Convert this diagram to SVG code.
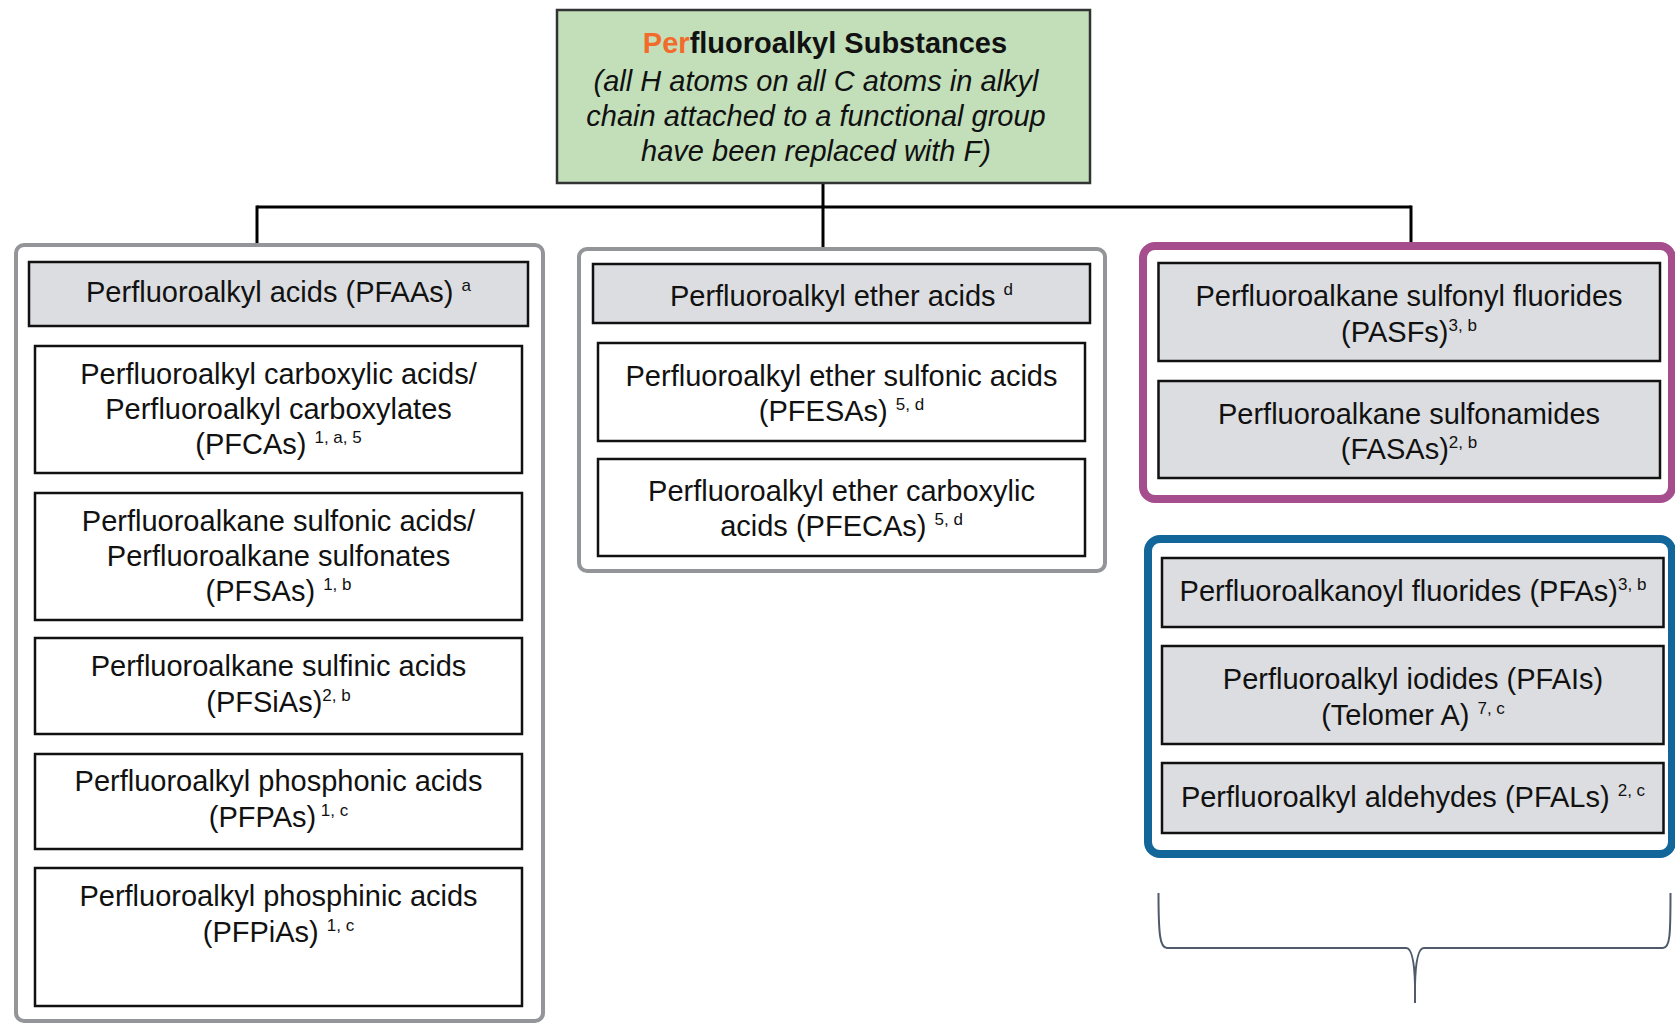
<svg xmlns="http://www.w3.org/2000/svg" width="1675" height="1023" viewBox="0 0 1675 1023">
  <style>
    .t { font-family: "Liberation Sans", Arial, sans-serif; font-size: 29px; fill: #111; text-anchor: middle; }
    .it { font-style: italic; }
    .b { font-weight: bold; }
    .sup { font-size: 17px; }
    .box { stroke: #111; stroke-width: 2.5; }
    .white { fill: #ffffff; }
    .gray { fill: #dcdde0; }
    .frame { fill: #ffffff; stroke: #939598; stroke-width: 4; }
    .link { fill: none; stroke: #000; stroke-width: 3; }
  </style>

  <rect width="1675" height="1023" fill="#ffffff"/>

  <!-- tree connectors -->
  <g id="connectors" class="link">
    <line x1="823" y1="183" x2="823" y2="207"/>
    <line x1="257" y1="207" x2="1411" y2="207"/>
    <line x1="257" y1="205.5" x2="257" y2="244"/>
    <line x1="823" y1="205.5" x2="823" y2="248"/>
    <line x1="1411" y1="205.5" x2="1411" y2="243"/>
  </g>

  <!-- root -->
  <g id="root">
    <rect x="557" y="10" width="533" height="173" fill="#c2dfba" stroke="#333" stroke-width="2.5"/>
    <text class="t b" x="825" y="53"><tspan fill="#f26b2a">Per</tspan>fluoroalkyl Substances</text>
    <text class="t it" x="816" y="91">(all H atoms on all C atoms in alkyl</text>
    <text class="t it" x="816" y="126">chain attached to a functional group</text>
    <text class="t it" x="816" y="161">have been replaced with F)</text>
  </g>

  <!-- PFAAs column -->
  <g id="pfaa-group">
    <rect class="frame" x="16" y="245" width="527" height="776" rx="8"/>
  </g>
  <g id="pfaas">
    <rect class="box gray" x="29" y="262" width="499" height="64"/>
    <text class="t" x="278.5" y="302">Perfluoroalkyl acids (PFAAs) <tspan class="sup" dy="-11">a</tspan></text>
  </g>
  <g id="pfcas">
    <rect class="box white" x="35" y="346" width="487" height="127"/>
    <text class="t" x="278.5" y="384">Perfluoroalkyl carboxylic acids/</text>
    <text class="t" x="278.5" y="419">Perfluoroalkyl carboxylates</text>
    <text class="t" x="278.5" y="454">(PFCAs) <tspan class="sup" dy="-11">1, a, 5</tspan></text>
  </g>
  <g id="pfsas">
    <rect class="box white" x="35" y="493" width="487" height="127"/>
    <text class="t" x="278.5" y="531">Perfluoroalkane sulfonic acids/</text>
    <text class="t" x="278.5" y="566">Perfluoroalkane sulfonates</text>
    <text class="t" x="278.5" y="601">(PFSAs) <tspan class="sup" dy="-11">1, b</tspan></text>
  </g>
  <g id="pfsias">
    <rect class="box white" x="35" y="638" width="487" height="96"/>
    <text class="t" x="278.5" y="676">Perfluoroalkane sulfinic acids</text>
    <text class="t" x="278.5" y="712">(PFSiAs)<tspan class="sup" dy="-11">2, b</tspan></text>
  </g>
  <g id="pfpas">
    <rect class="box white" x="35" y="754" width="487" height="95"/>
    <text class="t" x="278.5" y="791">Perfluoroalkyl phosphonic acids</text>
    <text class="t" x="278.5" y="827">(PFPAs)<tspan class="sup" dy="-11"> 1, c</tspan></text>
  </g>
  <g id="pfpias">
    <rect class="box white" x="35" y="868" width="487" height="138"/>
    <text class="t" x="278.5" y="906">Perfluoroalkyl phosphinic acids</text>
    <text class="t" x="278.5" y="942">(PFPiAs) <tspan class="sup" dy="-11">1, c</tspan></text>
  </g>

  <!-- ether acids column -->
  <g id="ether-group">
    <rect class="frame" x="579" y="249" width="526" height="322" rx="8"/>
  </g>
  <g id="ether-acids">
    <rect class="box gray" x="593" y="264" width="497" height="59"/>
    <text class="t" x="841.5" y="306">Perfluoroalkyl ether acids <tspan class="sup" dy="-11">d</tspan></text>
  </g>
  <g id="pfesas">
    <rect class="box white" x="598" y="343" width="487" height="98"/>
    <text class="t" x="841.5" y="386">Perfluoroalkyl ether sulfonic acids</text>
    <text class="t" x="841.5" y="421">(PFESAs) <tspan class="sup" dy="-11">5, d</tspan></text>
  </g>
  <g id="pfecas">
    <rect class="box white" x="598" y="459" width="487" height="97"/>
    <text class="t" x="841.5" y="501">Perfluoroalkyl ether carboxylic</text>
    <text class="t" x="841.5" y="536">acids (PFECAs) <tspan class="sup" dy="-11">5, d</tspan></text>
  </g>

  <!-- sulfonyl-based group -->
  <g id="sulfonyl-group">
    <rect x="1143" y="246" width="529" height="253" rx="12" fill="#ffffff" stroke="#a64d8e" stroke-width="8"/>
  </g>
  <g id="pasfs">
    <rect class="box gray" x="1158.5" y="263" width="501.5" height="98"/>
    <text class="t" x="1409" y="306">Perfluoroalkane sulfonyl fluorides</text>
    <text class="t" x="1409" y="342">(PASFs)<tspan class="sup" dy="-11">3, b</tspan></text>
  </g>
  <g id="fasas">
    <rect class="box gray" x="1158.5" y="381" width="501.5" height="97"/>
    <text class="t" x="1409" y="424">Perfluoroalkane sulfonamides</text>
    <text class="t" x="1409" y="459">(FASAs)<tspan class="sup" dy="-11">2, b</tspan></text>
  </g>

  <!-- telomer-based group -->
  <g id="telomer-group">
    <rect x="1148" y="539" width="524" height="315" rx="12" fill="#ffffff" stroke="#12669a" stroke-width="8"/>
  </g>
  <g id="pfas-fluorides">
    <rect class="box gray" x="1162" y="558" width="501.5" height="69"/>
    <text class="t" x="1413" y="601">Perfluoroalkanoyl fluorides (PFAs)<tspan class="sup" dy="-11">3, b</tspan></text>
  </g>
  <g id="pfais">
    <rect class="box gray" x="1162" y="646" width="501.5" height="98"/>
    <text class="t" x="1413" y="689">Perfluoroalkyl iodides (PFAIs)</text>
    <text class="t" x="1413" y="725">(Telomer A) <tspan class="sup" dy="-11">7, c</tspan></text>
  </g>
  <g id="pfals">
    <rect class="box gray" x="1162" y="763" width="501.5" height="70"/>
    <text class="t" x="1413" y="807">Perfluoroalkyl aldehydes (PFALs) <tspan class="sup" dy="-11">2, c</tspan></text>
  </g>

  <!-- curly brace under the right-hand groups -->
  <g id="brace" fill="none" stroke="#4f5b6b" stroke-width="2">
    <path d="M1158.5,893 C1158.5,935 1160,948 1167,948 L1406,948 C1412,948 1414.5,962 1415,985 L1415,1003"/>
    <path d="M1415,985 C1415.5,962 1418,948 1424,948 L1663,948 C1670,948 1670.5,935 1670.5,893"/>
  </g>
</svg>
